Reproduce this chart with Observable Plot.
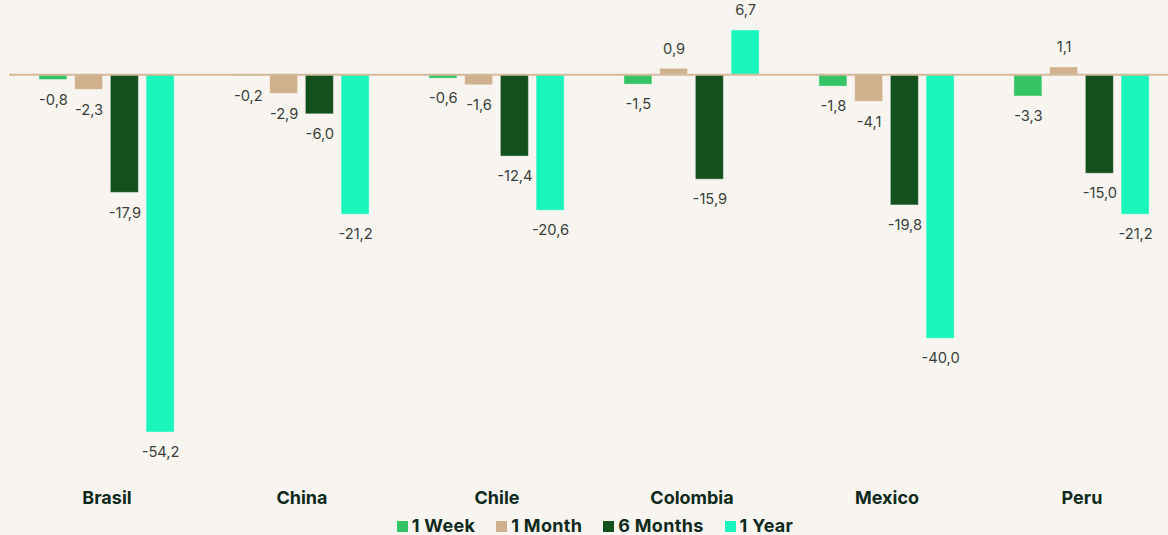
<!DOCTYPE html>
<html>
<head>
<meta charset="utf-8">
<script src="https://cdn.jsdelivr.net/npm/d3@7"></script>
<script src="https://cdn.jsdelivr.net/npm/@observablehq/plot@0.6"></script>
<style>
  html, body { margin: 0; padding: 0; background: #f8f5f0; }
  body { width: 1168px; height: 535px; overflow: hidden; font-family: Inter, sans-serif; }
  #legend { display: flex; justify-content: center; gap: 21px; margin-left: 22px; margin-top: 4px;
            font-size: 18px; font-weight: 700; letter-spacing: 0.3px; color: #0f2a1c; line-height: 20px; }
  #legend .item { display: flex; align-items: center; gap: 4px; }
  #legend .sw { width: 11px; height: 11px; display: inline-block; }
</style>
</head>
<body>
<div id="chart"></div>
<div id="legend"></div>
<script>
const countries = ["Brasil", "China", "Chile", "Colombia", "Mexico", "Peru"];
const periods = ["1 Week", "1 Month", "6 Months", "1 Year"];
const week = [-0.8, -0.2, -0.6, -1.5, -1.8, -3.3];
const month = [-2.3, -2.9, -1.6, 0.9, -4.1, 1.1];
const sixMonths = [-17.9, -6.0, -12.4, -15.9, -19.8, -15.0];
const year = [-54.2, -21.2, -20.6, 6.7, -40.0, -21.2];
const colors = ["#34c466", "#d0b18e", "#13501e", "#19f5bb"];

const series = [week, month, sixMonths, year];
const data = [];
countries.forEach((c, i) => {
  periods.forEach((p, j) => data.push({country: c, period: p, value: series[j][i]}));
});
const fmt = v => v.toFixed(1).replace(".", ",");

const chart = Plot.plot({
  width: 1168,
  height: 512,
  marginLeft: 9,
  marginRight: -11,
  marginTop: 0,
  marginBottom: 28,
  style: {background: "transparent", fontFamily: "Inter, sans-serif", overflow: "hidden"},
  fx: {domain: countries, padding: 0, round: false, label: null},
  x: {domain: periods, paddingInner: 0.216, paddingOuter: 0.836, round: false, axis: null},
  y: {domain: [-54.2, 6.7], range: [432, 30], axis: null},
  color: {domain: periods, range: colors},
  marks: [
    Plot.barY(data, {fx: "country", x: "period", y: "value", fill: "period", stroke: "#ffffff", strokeOpacity: 0.4, strokeWidth: 1}),
    Plot.ruleY([0], {stroke: "#d4b99c", strokeWidth: 2}),
    Plot.text(data.filter(d => d.value < 0), {fx: "country", x: "period", y: "value", text: d => fmt(d.value), dy: 20, fontSize: 14.7, fill: "#3a3f3c"}),
    Plot.text(data.filter(d => d.value >= 0), {fx: "country", x: "period", y: "value", text: d => fmt(d.value), dy: -20, fontSize: 14.7, fill: "#3a3f3c"}),
    Plot.axisFx({anchor: "bottom", tickSize: 0, tickPadding: 7, fontSize: 18, fontWeight: 700, letterSpacing: "0.7px", fill: "#0f2a1c", label: null})
  ]
});
document.getElementById("chart").appendChild(chart);

const legend = document.getElementById("legend");
periods.forEach((p, i) => {
  const item = document.createElement("div");
  item.className = "item";
  const sw = document.createElement("span");
  sw.className = "sw";
  sw.style.background = colors[i];
  const t = document.createElement("span");
  t.textContent = p;
  item.appendChild(sw);
  item.appendChild(t);
  legend.appendChild(item);
});
</script>
</body>
</html>
